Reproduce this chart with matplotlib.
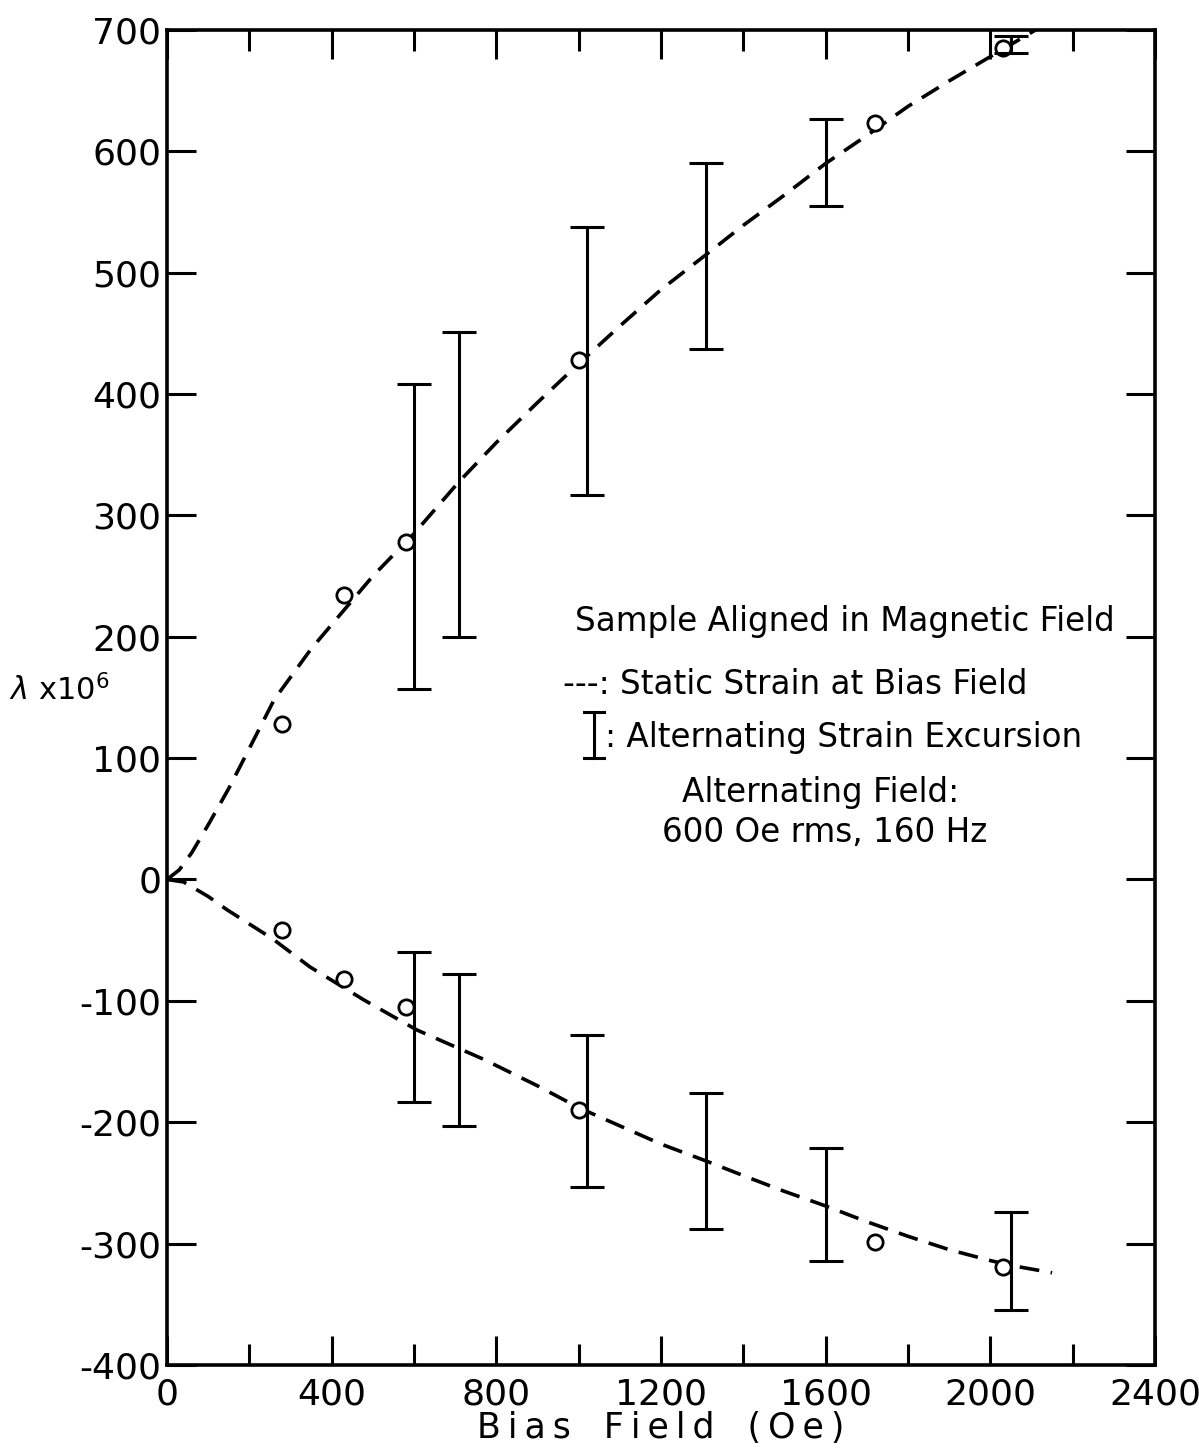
import numpy as np
import matplotlib.pyplot as plt
from matplotlib.ticker import MultipleLocator

plt.rcParams['font.family'] = ['DejaVu Sans']

# Static strain curves (dashed)
up_x = [0, 30, 60, 100, 150, 200, 260, 350, 430, 500, 600, 710, 800, 900, 1000,
        1100, 1200, 1310, 1400, 1500, 1600, 1700, 1800, 1900, 2000, 2110]
up_y = [0, 8, 22, 45, 75, 108, 148, 190, 222, 250, 285, 328, 360, 393, 425,
        456, 486, 515, 539, 564, 590, 613, 637, 658, 678, 700]
lo_x = [0, 40, 100, 146, 257, 347, 477, 607, 768, 900, 1000, 1100, 1200, 1310,
        1400, 1500, 1600, 1700, 1800, 1900, 2000, 2050, 2150]
lo_y = [0, -2, -14, -25, -49, -72, -99, -124, -148, -170, -188, -203, -218, -232,
        -244, -257, -269, -282, -294, -305, -314, -318, -324]

# Measured points (open circles)
pt_x = [280, 430, 580, 1000, 1720, 2030]
pt_up = [128, 234, 278, 428, 623, 685]
pt_lo = [-42, -82, -105, -190, -299, -319]

# Alternating strain excursions (error bars)
eb_x = [600, 710, 1020, 1310, 1600, 2050]
eb_up_top = [408, 451, 538, 590, 627, 695]
eb_up_bot = [157, 200, 317, 437, 555, 681]
eb_lo_top = [-60, -78, -128, -176, -221, -274]
eb_lo_bot = [-183, -203, -253, -288, -314, -355]

fig = plt.figure(figsize=(11.99, 14.53), dpi=100)
ax = fig.add_axes([0.1393, 0.0606, 0.824, 0.9188])

dash_kw = dict(color='black', lw=2.6, dashes=(5.5, 3.2))
ax.plot(up_x, up_y, **dash_kw)
ax.plot(lo_x, lo_y, **dash_kw)

circ_kw = dict(ls='none', marker='o', ms=11, mfc='white', mec='black', mew=2)
ax.plot(pt_x, pt_up, **circ_kw)
ax.plot(pt_x, pt_lo, **circ_kw)

for top, bot in [(eb_up_top, eb_up_bot), (eb_lo_top, eb_lo_bot)]:
    top = np.array(top)
    bot = np.array(bot)
    mid = (top + bot) / 2
    ax.errorbar(eb_x, mid, yerr=(top - bot) / 2, fmt='none', ecolor='black',
                elinewidth=2.2, capsize=12, capthick=2.2)

ax.set_xlim(0, 2400)
ax.set_ylim(-400, 700)
ax.set_xticks(range(0, 2401, 400))
ax.xaxis.set_minor_locator(MultipleLocator(200))
ax.set_yticks(range(-400, 701, 100))
ax.set_xticklabels(['0', '400', '800', '1200', '1600', '2000', '2400'])
ax.set_yticklabels([str(v) for v in range(-400, 701, 100)])

for s in ax.spines.values():
    s.set_linewidth(2.6)
ax.tick_params(which='major', direction='in', length=21, width=2.2,
               labelsize=26, top=True, right=True, pad=4)
ax.tick_params(axis='x', which='major', pad=9)
ax.tick_params(which='minor', direction='in', length=15, width=2.2,
               top=True, bottom=True)

ts = '\u2009'
ax.set_xlabel(ts.join('Bias') + '   ' + ts.join('Field') + '   ' + ts.join('(Oe)'),
              fontsize=25, labelpad=0)
ax.text(-0.058, 0.5056, r'$\lambda$ x10$^6$', transform=ax.transAxes,
        fontsize=22, ha='right', va='center')

# legend block
fs = 23.5
ax.text(0.686, 0.5566, 'Sample Aligned in Magnetic Field', transform=ax.transAxes,
        fontsize=fs, ha='center', va='center')
ax.text(0.401, 0.5094, '---: Static Strain at Bias Field', transform=ax.transAxes,
        fontsize=fs, ha='left', va='center')
ax.plot([0.432, 0.432], [0.489, 0.4547], transform=ax.transAxes, color='black', lw=2.2)
ax.plot([0.422, 0.442], [0.489, 0.489], transform=ax.transAxes, color='black', lw=2.2)
ax.plot([0.422, 0.442], [0.4547, 0.4547], transform=ax.transAxes, color='black', lw=2.2)
ax.text(0.443, 0.4697, ': Alternating Strain Excursion', transform=ax.transAxes,
        fontsize=fs, ha='left', va='center')
ax.text(0.661, 0.4285, 'Alternating Field:', transform=ax.transAxes,
        fontsize=fs, ha='center', va='center')
ax.text(0.666, 0.3985, '600 Oe rms, 160 Hz', transform=ax.transAxes,
        fontsize=fs, ha='center', va='center')

fig.savefig('out.png', dpi=100)
